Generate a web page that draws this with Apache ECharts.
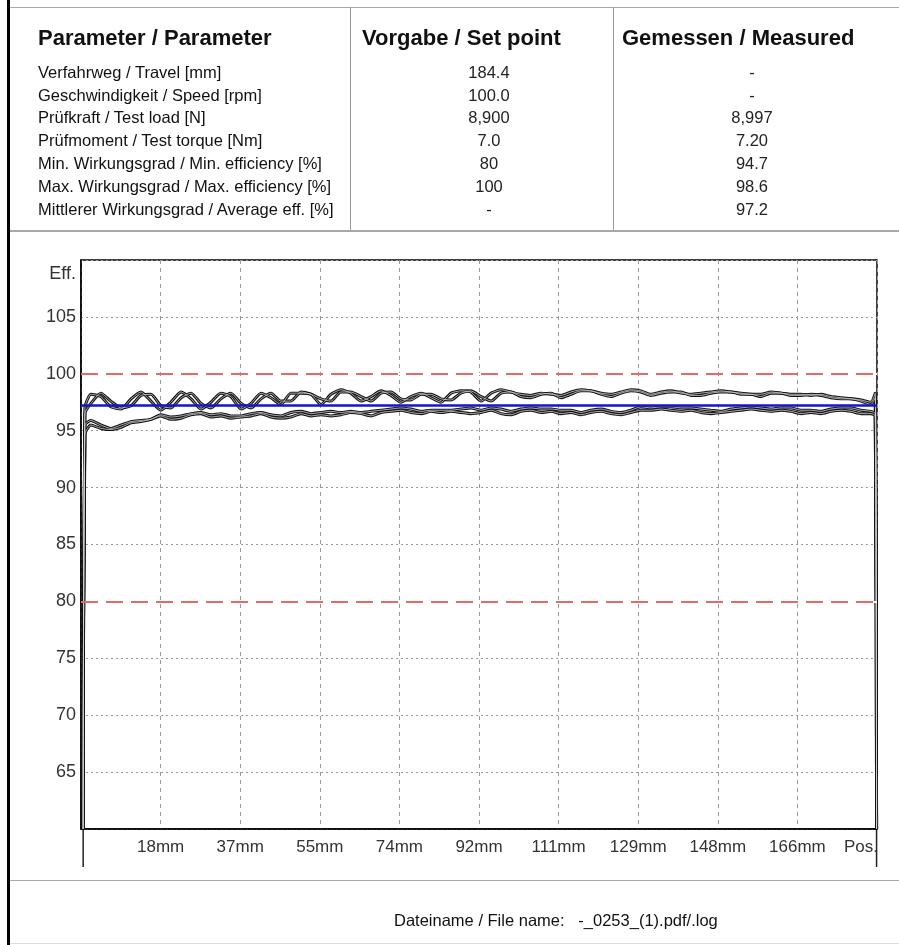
<!DOCTYPE html>
<html>
<head>
<meta charset="utf-8">
<script src="https://cdn.jsdelivr.net/npm/echarts@6/dist/echarts.min.js"></script>
<style>
  html, body { margin:0; padding:0; background:#fff; }
  #page { position:relative; width:899px; height:945px; overflow:hidden; font-family:'Liberation Sans', Arial, sans-serif; color:#111; }
  #chart { position:absolute; left:0; top:0; width:899px; height:945px; }
  .abs { position:absolute; white-space:pre; }
  .hdr { font-weight:bold; font-size:22px; line-height:24px; }
  .row { font-size:16.5px; line-height:20px; }
  .val { font-size:16.5px; line-height:20px; width:120px; text-align:center; color:#222; }
  .ln { position:absolute; background:#a8a8a8; }
</style>
</head>
<body>
<div id="page">
  <div id="chart"></div>
  <div id="table"></div>
  <div class="ln" style="left:7px;top:0;width:3px;height:945px;background:#000"></div>
  <div class="ln" style="left:10px;top:7px;width:889px;height:1px;"></div>
  <div class="ln" style="left:350px;top:7px;width:1px;height:223px;background:#999"></div>
  <div class="ln" style="left:613px;top:7px;width:1px;height:223px;background:#999"></div>
  <div class="ln" style="left:10px;top:230px;width:889px;height:2px;"></div>
  <div class="ln" style="left:10px;top:880px;width:889px;height:1px;"></div>
  <div class="ln" style="left:10px;top:943px;width:889px;height:1px;background:#ddd"></div>
  <div class="abs row" style="left:394px;top:910px;">Dateiname / File name:   -_0253_(1).pdf/.log</div>
</div>
<script>
// ---- Table data ----
const tableHeaders = ['Parameter / Parameter', 'Vorgabe / Set point', 'Gemessen / Measured'];
const paramNames = [
  'Verfahrweg / Travel [mm]',
  'Geschwindigkeit / Speed [rpm]',
  'Prüfkraft / Test load [N]',
  'Prüfmoment / Test torque [Nm]',
  'Min. Wirkungsgrad / Min. efficiency [%]',
  'Max. Wirkungsgrad / Max. efficiency [%]',
  'Mittlerer Wirkungsgrad / Average eff. [%]'
];
const setPoints = ['184.4', '100.0', '8,900', '7.0', '80', '100', '-'];
const measured = ['-', '-', '8,997', '7.20', '94.7', '98.6', '97.2'];

// ---- Chart data ----
const effLimits = [80, 100];
const effAverage = [97.2];
const xTickLabelMm = [18, 37, 55, 74, 92, 111, 129, 148, 166];
const travelMm = [0.5, 0.9,
  2.3, 4.6, 6.9, 9.3, 11.6, 13.9, 16.2, 18.5, 20.8, 23.2,
  25.5, 27.8, 30.1, 32.4, 34.7, 37.1, 39.4, 41.7, 44.0, 46.3,
  48.6, 51.0, 53.3, 55.6, 57.9, 60.2, 62.5, 64.9, 67.2, 69.5,
  71.8, 74.1, 76.4, 78.8, 81.1, 83.4, 85.7, 88.0, 90.3, 92.7,
  95.0, 97.3, 99.6, 101.9, 104.2, 106.6, 108.9, 111.2, 113.5, 115.8,
  118.1, 120.5, 122.8, 125.1, 127.4, 129.7, 132.0, 134.4, 136.7, 139.0,
  141.3, 143.6, 145.9, 148.3, 150.6, 152.9, 155.2, 157.5, 159.8, 162.2,
  164.5, 166.8, 169.1, 171.4, 173.7, 176.1, 178.4, 180.7, 183.0,
  184.0, 184.3];
const effUpperA = [60, 97.0,
  98.2, 98.0, 97.1, 96.9, 97.8, 98.4, 97.6, 96.8, 97.5, 98.4,
  97.8, 96.9, 97.5, 98.3, 98.0, 96.9, 97.4, 98.3, 97.9, 97.3,
  98.3, 98.3, 98.2, 97.3, 98.2, 98.6, 98.3, 97.6, 98.0, 98.5,
  98.1, 97.5, 98.0, 98.3, 97.9, 97.5, 98.3, 98.5, 98.4, 97.6,
  98.3, 98.6, 98.4, 98.2, 98.1, 98.3, 98.2, 98.1, 98.4, 98.6,
  98.5, 98.3, 98.2, 98.4, 98.6, 98.5, 98.2, 98.4, 98.5, 98.3,
  98.2, 98.3, 98.4, 98.5, 98.4, 98.3, 98.2, 98.2, 98.4, 98.3,
  98.2, 98.2, 98.1, 98.2, 98.0, 97.9, 97.8, 97.7, 97.5,
  98.3, 60];
const effUpperB = [60, 96.5,
  97.4, 98.3, 97.6, 97.0, 97.2, 98.1, 98.2, 97.2, 97.0, 97.9,
  98.3, 97.4, 97.0, 97.8, 98.3, 97.4, 97.0, 97.8, 98.3, 97.6,
  97.6, 98.4, 98.2, 97.8, 97.6, 98.4, 98.4, 98.0, 97.6, 98.3,
  98.4, 97.8, 97.7, 98.2, 98.2, 97.8, 97.7, 98.3, 98.5, 98.0,
  97.6, 98.3, 98.4, 98.0, 97.9, 98.2, 98.3, 97.9, 98.2, 98.5,
  98.5, 98.2, 98.0, 98.3, 98.5, 98.4, 98.1, 98.3, 98.4, 98.4,
  98.1, 98.1, 98.3, 98.4, 98.4, 98.2, 98.2, 98.0, 98.3, 98.3,
  98.1, 98.1, 98.2, 98.1, 97.9, 97.8, 97.8, 97.6, 97.3,
  97.9, 60];
const effLowerA = [60, 95.5,
  95.9, 95.5, 95.2, 95.5, 95.8, 95.9, 96.0, 96.4, 96.2, 96.3,
  96.5, 96.6, 96.4, 96.5, 96.3, 96.3, 96.5, 96.6, 96.4, 96.3,
  96.6, 96.7, 96.5, 96.6, 96.7, 96.6, 96.7, 96.6, 96.7, 96.8,
  96.9, 97.0, 96.9, 96.7, 96.8, 96.8, 96.8, 96.9, 97.0, 96.8,
  97.0, 96.9, 96.7, 96.9, 97.0, 96.9, 96.9, 96.8, 96.8, 96.6,
  96.8, 96.9, 96.7, 96.6, 96.8, 97.1, 97.0, 97.1, 97.1, 97.0,
  97.0, 96.9, 96.8, 96.7, 96.9, 97.0, 97.1, 97.0, 96.9, 97.0,
  97.0, 96.8, 96.8, 96.7, 96.9, 97.0, 97.0, 96.8, 96.7,
  96.5, 60];
const effLowerB = [60, 94.7,
  95.5, 95.2, 95.1, 95.3, 95.7, 95.8, 96.0, 96.3, 96.0, 96.1,
  96.4, 96.5, 96.2, 96.3, 96.1, 96.2, 96.3, 96.5, 96.2, 96.1,
  96.2, 96.5, 96.3, 96.4, 96.3, 96.4, 96.6, 96.5, 96.3, 96.6,
  96.7, 96.8, 96.6, 96.5, 96.7, 96.6, 96.7, 96.6, 96.5, 96.6,
  96.8, 96.5, 96.4, 96.7, 96.8, 96.6, 96.7, 96.5, 96.6, 96.4,
  96.6, 96.7, 96.5, 96.4, 96.6, 96.8, 96.8, 96.9, 96.8, 96.7,
  96.8, 96.6, 96.5, 96.6, 96.7, 96.8, 96.9, 96.8, 96.7, 96.8,
  96.7, 96.5, 96.6, 96.5, 96.7, 96.8, 96.7, 96.5, 96.5,
  96.3, 60];
const xMin = 0, xMax = 184.4, xStep = 18.44;
const yMin = 60, yMax = 110, yStep = 5;

// ---- Build table ----
(function buildTable(){
  const t = document.getElementById('table');
  let html = '';
  html += '<div class="abs hdr" style="left:38px;top:26px">' + tableHeaders[0] + '</div>';
  html += '<div class="abs hdr" style="left:362px;top:26px">' + tableHeaders[1] + '</div>';
  html += '<div class="abs hdr" style="left:622px;top:26px">' + tableHeaders[2] + '</div>';
  const rowTops = [62, 85, 107, 130, 153, 176, 199];
  paramNames.forEach((n, i) => {
    html += '<div class="abs row" style="left:38px;top:' + rowTops[i] + 'px">' + n + '</div>';
    html += '<div class="abs val" style="left:429px;top:' + rowTops[i] + 'px">' + setPoints[i] + '</div>';
    html += '<div class="abs val" style="left:692px;top:' + rowTops[i] + 'px">' + measured[i] + '</div>';
  });
  t.innerHTML = html;
})();

// ---- Chart ----
const chart = echarts.init(document.getElementById('chart'), null, {renderer: 'canvas'});
const axisFont = "'Liberation Sans', Arial, sans-serif";
const zip = (ys) => travelMm.map((x, i) => [x, ys[i]]);
const curves = [effUpperA, effUpperB, effLowerA, effLowerB];
const series = [];
curves.forEach((c) => {
  series.push({ type:'line', data: zip(c), showSymbol:false, symbol:'none', smooth:0.2, silent:true,
    lineStyle:{ color:'#141414', width:3 }, z:3, animation:false });
});
curves.forEach((c) => {
  series.push({ type:'line', data: zip(c), showSymbol:false, symbol:'none', smooth:0.2, silent:true,
    lineStyle:{ color:'#d0d0d0', width:0.8 }, z:4, animation:false });
});
series.push({
  type:'line', data:[], silent:true, z:2, animation:false,
  markLine:{ symbol:'none', silent:true, animation:false, label:{show:false},
    data: effLimits.map(v => ({ yAxis: v, lineStyle:{ color:'#ffffff', width:2, type:'solid' } }))
  }
});
series.push({
  type:'line', data:[], silent:true, z:5, animation:false,
  markLine:{ symbol:'none', silent:true, animation:false, label:{show:false},
    data: effLimits.map(v => ({ yAxis: v, lineStyle:{ color:'#e26a6a', width:2, type:[17,8] } }))
      .concat(effAverage.map(v => ({ yAxis: v, lineStyle:{ color:'#1414cc', width:2.5, type:'solid' } })))
  }
});

chart.setOption({
  animation:false,
  grid:{ left:81, top:260, width:796, height:569, show:true, borderColor:'#000', borderWidth:1.5, backgroundColor:'transparent' },
  xAxis:{
    type:'value', min:xMin, max:xMax, interval:xStep,
    axisLine:{ show:true, lineStyle:{ color:'#000', width:1.5 } },
    axisTick:{ show:false },
    splitLine:{ show:true, lineStyle:{ color:'#9a9a9a', width:1, type:[4,4] } },
    axisLabel:{
      color:'#333', fontFamily:axisFont, fontSize:17, margin:10, showMinLabel:false,
      formatter:(v) => {
        if (v >= xMax - 0.5) return '{p|Pos.}';
        if (v < 1) return '';
        const idx = Math.round(v / xStep) - 1;
        return (xTickLabelMm[idx] !== undefined ? xTickLabelMm[idx] : Math.round(v)) + 'mm';
      },
      rich:{ p:{ fontFamily:axisFont, fontSize:17, color:'#333', padding:[0,32,0,0] } }
    }
  },
  yAxis:{
    type:'value', min:yMin, max:yMax, interval:yStep,
    axisLine:{ show:true, lineStyle:{ color:'#000', width:1.5 } },
    axisTick:{ show:false },
    splitLine:{ show:true, lineStyle:{ color:'#9a9a9a', width:1, type:[2,3] } },
    axisLabel:{
      color:'#333', fontFamily:axisFont, fontSize:18, margin:5,
      formatter:(v) => {
        if (v >= yMax) return '{e|Eff.}';
        if (v <= yMin) return '';
        return String(v);
      },
      rich:{ e:{ fontFamily:axisFont, fontSize:18, color:'#333', padding:[28,0,0,0] } }
    }
  },
  series: series
});

// end-position tick lines below the axis (positions via the chart's own scale)
const pL = chart.convertToPixel({gridIndex:0}, [travelMm[0], yMin]);
const pR = chart.convertToPixel({gridIndex:0}, [travelMm[travelMm.length-1], yMin]);
chart.setOption({
  graphic:[
    { type:'line', shape:{ x1:pL[0], y1:pL[1], x2:pL[0], y2:pL[1]+38 }, style:{ stroke:'#222', lineWidth:1.5 }, silent:true },
    { type:'line', shape:{ x1:pR[0], y1:pR[1], x2:pR[0], y2:pR[1]+38 }, style:{ stroke:'#222', lineWidth:1.5 }, silent:true }
  ]
});
</script>
</body>
</html>
